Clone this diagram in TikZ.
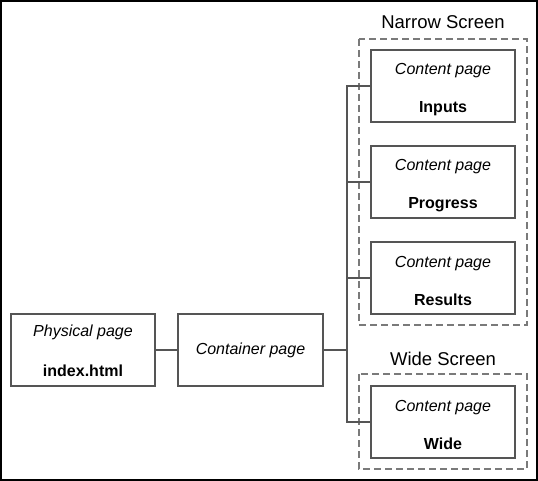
\documentclass[tikz,border=0pt]{standalone}
\usepackage{fontspec}
\setmainfont{Liberation Sans}
\newcommand{\topstrut}{\rule{0pt}{18bp}}
\newcommand{\physstrut}{\rule{0pt}{14bp}}
\begin{document}
\begin{tikzpicture}[x=1bp,y=-1bp,
  pagebox/.style={draw=boxgray,line width=1.1bp,rectangle,minimum width=144bp,minimum height=72bp,inner sep=0pt,align=center,font=\fontsize{16bp}{38bp}\selectfont},
  conn/.style={draw=boxgray,line width=1.1bp},
  groupbox/.style={draw=dashgray,line width=1.4bp,dash pattern=on 7bp off 4bp},
  grouplabel/.style={inner sep=0pt,font=\fontsize{18.5bp}{22bp}\selectfont}]
\definecolor{boxgray}{HTML}{555555}
\definecolor{dashgray}{HTML}{7A7A7A}
\useasboundingbox (0,0) rectangle (538,481);
\draw[black,line width=2bp] (1,1) rectangle (537,480);
% dashed groups
\draw[groupbox] (359,39) rectangle (527,325);
\draw[groupbox] (359,374) rectangle (527,469);
\node[grouplabel] (narrowlbl) at (443,22) {Narrow Screen};
\node[grouplabel] (widelbl) at (443,359) {Wide Screen};
% boxes
\node[pagebox,font=\fontsize{16bp}{40bp}\selectfont] (phys) at (83,350) {\physstrut\textit{Physical page}\\\textbf{index.html}};
\node[pagebox,minimum width=145bp] (cont) at (250.5,350) {\textit{Container page}};
\node[pagebox] (inputs) at (443,86) {\topstrut\textit{Content page}\\\textbf{Inputs}};
\node[pagebox] (progress) at (443,182) {\topstrut\textit{Content page}\\\textbf{Progress}};
\node[pagebox] (results) at (443,278) {\topstrut\textit{Content page}\\\textbf{Results}};
\node[pagebox] (wide) at (443,422) {\topstrut\textit{Content page}\\\textbf{Wide}};
% connectors
\coordinate (jn) at (347,350);
\draw[conn] (phys.east) -- (cont.east -| cont.west);
\draw[conn] (cont.east) -- (jn);
\draw[conn] (inputs.west) -| (jn) |- (wide.west);
\draw[conn] (progress.west) -- (progress.west -| jn);
\draw[conn] (results.west) -- (results.west -| jn);
\end{tikzpicture}
\end{document}
